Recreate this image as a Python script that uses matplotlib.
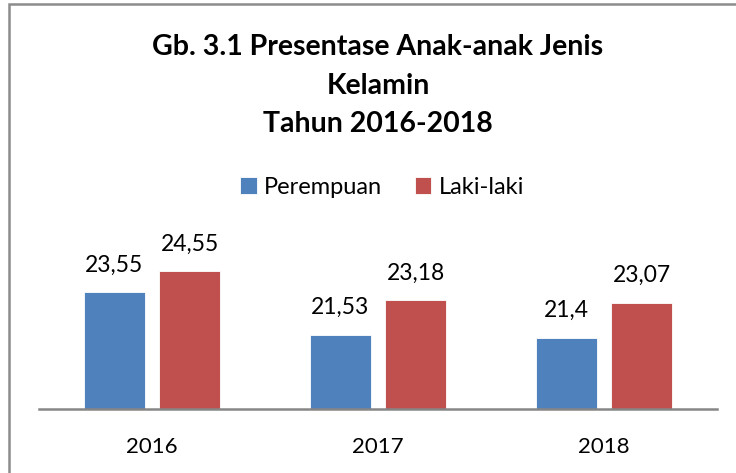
import matplotlib.pyplot as plt
from matplotlib.patches import Rectangle
import numpy as np

# --- Data ---
tahun = ['2016', '2017', '2018']
perempuan = [23.55, 21.53, 21.4]
laki_laki = [24.55, 23.18, 23.07]
seri = ['Perempuan', 'Laki-laki']
warna = ['#4F81BD', '#C0504D']

plt.rcParams['font.family'] = ['Lato', 'DejaVu Sans']

fig = plt.figure(figsize=(7.36, 4.73), dpi=100)
ax = fig.add_axes([39 / 736, 64 / 473, 678 / 736, 168 / 473])

x = np.arange(len(tahun))
lebar = 0.27
jarak = 0.066

bars = []
for k, (nilai, nama) in enumerate(zip([perempuan, laki_laki], seri)):
    pos = x + (k - 0.5) * (lebar + jarak)
    b = ax.bar(pos, nilai, width=lebar, color=warna[k], label=nama,
               edgecolor='white', linewidth=0.6)
    bars.append(b)
    for px, v in zip(pos, nilai):
        lbl = f"{v:g}".replace('.', ',')
        ax.annotate(lbl, (px, v), xytext=(0, 12), textcoords='offset points',
                    ha='center', va='bottom', fontsize=16.5, color='black')

ax.set_ylim(18, 26)
ax.set_xlim(-0.5, 2.5)
ax.set_xticks(x)
ax.set_xticklabels(tahun, fontsize=16)
ax.tick_params(axis='x', length=0, pad=20)
ax.set_yticks([])
for s in ['top', 'right', 'left']:
    ax.spines[s].set_visible(False)
ax.spines['bottom'].set_color('#868686')
ax.spines['bottom'].set_linewidth(1.8)

# --- Judul ---
fig.text(378 / 736, 1 - 47 / 473, 'Gb. 3.1 Presentase Anak-anak Jenis',
         ha='center', va='center', fontsize=20.5, fontweight='bold')
fig.text(378 / 736, 1 - 86 / 473, 'Kelamin',
         ha='center', va='center', fontsize=20.5, fontweight='bold')
fig.text(378 / 736, 1 - 124 / 473, 'Tahun 2016-2018',
         ha='center', va='center', fontsize=20.5, fontweight='bold')

# --- Legenda ---
fig.legend(handles=bars, labels=seri, loc='center', ncol=2,
           bbox_to_anchor=(382 / 736, 1 - 187 / 473), frameon=False,
           fontsize=17, handlelength=0.7, handleheight=0.7,
           handletextpad=0.3, columnspacing=1.4)

# --- Bingkai ---
fig.patches.append(Rectangle((9 / 736, -0.1), 1.2, (473 - 4.5) / 473 + 0.1,
                             transform=fig.transFigure, fill=False,
                             edgecolor='#8c8c8c', linewidth=1.8))

fig.savefig('out.png', dpi=100)
